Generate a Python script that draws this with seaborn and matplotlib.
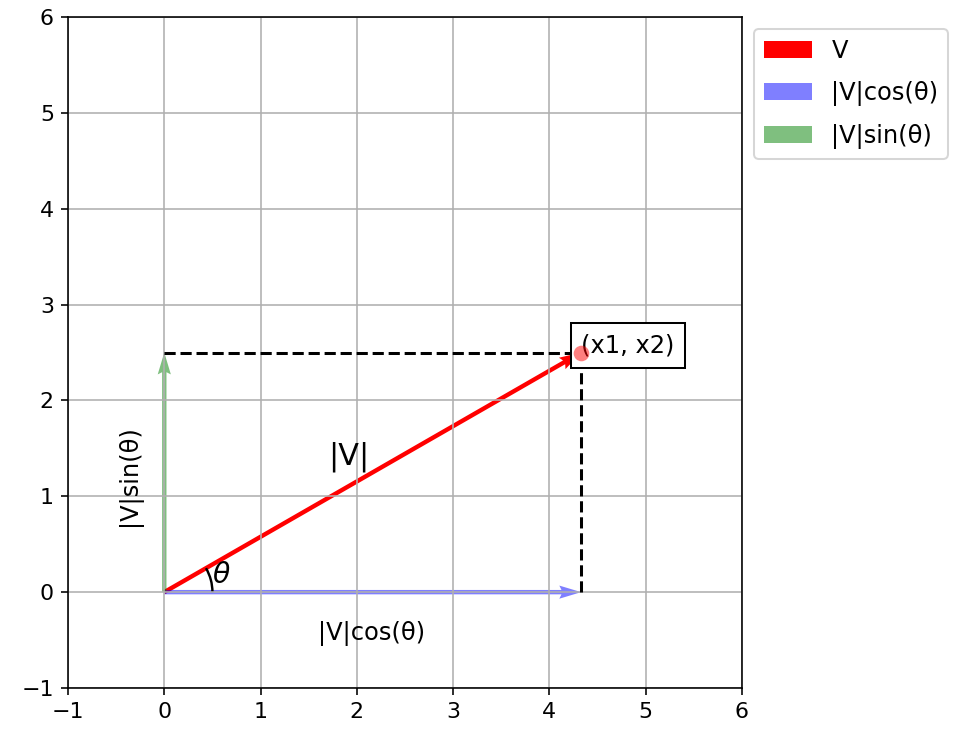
import matplotlib
matplotlib.use('Agg')
import matplotlib.pyplot as plt
from matplotlib.patches import Arc
import pandas as pd
import seaborn as sns

# vector V and its components
x1 = 4.33
x2 = 2.5
vec_names = ['V', '|V|cos(θ)', '|V|sin(θ)']
vec_u = [x1, x1, 0]
vec_v = [x2, 0, x2]
vec_colors = ['red', 'blue', 'green']
vec_alpha = [1.0, 0.5, 0.5]
theta_deg = 30
ticks = [-1, 0, 1, 2, 3, 4, 5, 6]

fig = plt.figure(figsize=(955 / 145, 732 / 145), dpi=145)
ax = fig.add_axes([68 / 955, 44 / 732, 674 / 955, 671 / 732])

for name, u, v, c, a in zip(vec_names, vec_u, vec_v, vec_colors, vec_alpha):
    ax.quiver(0, 0, u, v, angles='xy', scale_units='xy', scale=1,
              color=c, alpha=a, width=0.0065, label=name)

# tip of the vector
tip = pd.DataFrame({'x': [x1], 'y': [x2]})
sns.scatterplot(data=tip, x='x', y='y', color='red', alpha=0.5, s=60,
                linewidth=0, ax=ax, zorder=4)

ax.plot([0, x1], [x2, x2], 'k--', lw=1.5)
ax.plot([x1, x1], [0, x2], 'k--', lw=1.5)

ax.add_patch(Arc((0, 0), 1, 1, theta1=0, theta2=theta_deg, color='black', lw=1.2))
ax.text(0.5, 0.1, r'$\theta$', fontsize=14)
ax.text(1.7, 1.33, '|V|', fontsize=15)
ax.text(1.6, -0.5, '|V|cos(θ)', fontsize=12)
ax.text(-0.36, 1.22, '|V|sin(θ)', fontsize=12, rotation=90, ha='center', va='center')
ax.text(x1, x2, '(x1, x2)', fontsize=12,
        bbox=dict(facecolor='white', edgecolor='black', pad=5))

ax.set_xlim(-1, 6)
ax.set_ylim(-1, 6)
ax.set_xticks(ticks)
ax.set_yticks(ticks)
ax.tick_params(labelsize=11)
ax.set_xlabel('')
ax.set_ylabel('')
ax.grid(True)
ax.legend(loc='upper left', bbox_to_anchor=(1, 1), fontsize=12, labelspacing=0.75)

fig.savefig('out.png', dpi=145)
